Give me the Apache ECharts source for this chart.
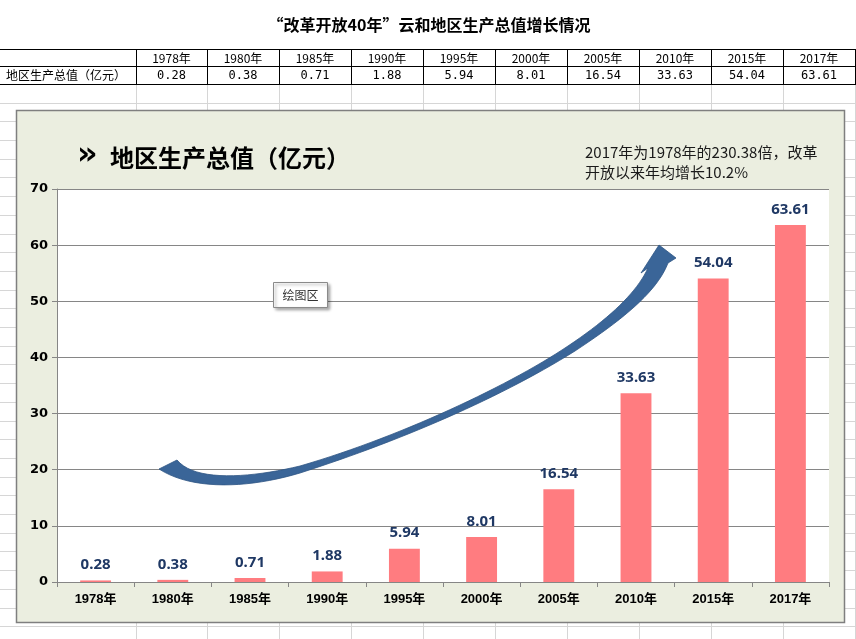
<!DOCTYPE html>
<html>
<head>
<meta charset="utf-8">
<script src="https://cdn.jsdelivr.net/npm/echarts@6/dist/echarts.min.js"></script>
<style>html,body{margin:0;padding:0;background:#fff;}#c{width:856px;height:639px;}</style>
</head>
<body>
<div id="c"></div>
<script>
// ---- data ----
const categories = ['1978年','1980年','1985年','1990年','1995年','2000年','2005年','2010年','2015年','2017年'];
const values = [0.28, 0.38, 0.71, 1.88, 5.94, 8.01, 16.54, 33.63, 54.04, 63.61];
const rowLabel = '地区生产总值（亿元）';
const sheetTitle = '“改革开放40年”云和地区生产总值增长情况';
const chartTitle = '地区生产总值（亿元）';
const noteLines = ['2017年为1978年的230.38倍，改革', '开放以来年均增长10.2%'];
const yMin = 0, yMax = 70, yStep = 10;

// ---- layout ----
const cols = [0,136,207,279,351,423,495,567,639,711,783,855];
const W = 856, H = 639;
const CJK = '"Noto Sans CJK SC", "Liberation Sans", sans-serif';
const graphics = [];

// spreadsheet light grid
for (let y = 84 + 18.7; y < H; y += 18.7) {
  graphics.push({type:'line', z:-30, shape:{x1:0,y1:Math.round(y)+0.5,x2:W,y2:Math.round(y)+0.5}, style:{stroke:'#d6d6d6',lineWidth:1}});
}
cols.slice(1).forEach(x => {
  graphics.push({type:'line', z:-30, shape:{x1:x+0.5,y1:84,x2:x+0.5,y2:H}, style:{stroke:'#d6d6d6',lineWidth:1}});
});
// table borders
[49,66,84].forEach(y => graphics.push({type:'line', z:-25, shape:{x1:0,y1:y+0.5,x2:W,y2:y+0.5}, style:{stroke:'#000',lineWidth:1}}));
cols.slice(1).forEach(x => graphics.push({type:'line', z:-25, shape:{x1:x+0.5,y1:49,x2:x+0.5,y2:84}, style:{stroke:'#000',lineWidth:1}}));
// sheet title
graphics.push({type:'text', z:-25, style:{text:sheetTitle, x:429, y:25, textAlign:'center', textVerticalAlign:'middle', font:'bold 16px '+CJK, fill:'#000'}});
// table text
graphics.push({type:'text', z:-25, style:{text:rowLabel, x:6, y:75.5, textAlign:'left', textVerticalAlign:'middle', font:'12px '+CJK, fill:'#000'}});
categories.forEach((c,i) => {
  const cx = (cols[i+1]+cols[i+2])/2;
  graphics.push({type:'text', z:-25, style:{text:c, x:cx, y:58, textAlign:'center', textVerticalAlign:'middle', font:'12px '+CJK, fill:'#000'}});
  graphics.push({type:'text', z:-25, style:{text:values[i].toFixed(2), x:cx, y:75.5, textAlign:'center', textVerticalAlign:'middle', font:'12px "DejaVu Sans Mono", monospace', fill:'#000'}});
});
// chart box
graphics.push({type:'rect', z:-20, shape:{x:16.5,y:110.5,width:828,height:512}, style:{fill:'#ebeee0',stroke:'#7f7f7f',lineWidth:1.5}});
// chart title
graphics.push({type:'text', z:5, style:{text:'»', x:77, y:156, textAlign:'left', textVerticalAlign:'middle', font:'900 32px "DejaVu Sans", sans-serif', fill:'#000'}});
graphics.push({type:'text', z:5, style:{text:chartTitle, x:110, y:158, textAlign:'left', textVerticalAlign:'middle', font:'bold 24px '+CJK, fill:'#000'}});
// note
noteLines.forEach((t,i) => graphics.push({type:'text', z:5, style:{text:t, x:585, y:152+i*20, textAlign:'left', textVerticalAlign:'middle', font:'15px '+CJK, fill:'#1a1a1a'}}));

// curved arrow (decoration) - sampled cubic beziers into a polygon
function cubic(p0,p1,p2,p3,n){
  const out=[];
  for(let k=1;k<=n;k++){const t=k/n,u=1-t;
    out.push([u*u*u*p0[0]+3*u*u*t*p1[0]+3*u*t*t*p2[0]+t*t*t*p3[0], u*u*u*p0[1]+3*u*u*t*p1[1]+3*u*t*t*p2[1]+t*t*t*p3[1]]);}
  return out;
}
const arrowPts = [[177,460]];
arrowPts.push(...cubic([177,460],[195,482],[250,478],[300,466],20));
arrowPts.push(...cubic([300,466],[400,437],[510,385],[568,346],30));
arrowPts.push(...cubic([568,346],[610,318],[637,292],[648,268],20));
arrowPts.push([641,273],[659,245],[676,258],[668,263]);
arrowPts.push(...cubic([668,263],[657,292],[622,320],[575,351],20));
arrowPts.push(...cubic([575,351],[500,398],[400,441],[300,473],30));
arrowPts.push(...cubic([300,473],[250,488],[193,491],[159,469],20));
graphics.push({type:'polygon', z:10, shape:{points:arrowPts}, style:{fill:'#3a6598', stroke:'#2f5684', lineWidth:0.8}});

// "绘图区" tooltip box
graphics.push({type:'rect', z:12, shape:{x:273.5,y:282.5,width:54,height:25}, style:{fill:'#fff',stroke:'#8a8a8a',lineWidth:1,shadowBlur:3,shadowOffsetX:2,shadowOffsetY:2,shadowColor:'rgba(0,0,0,0.35)'}});
graphics.push({type:'text', z:13, style:{text:'绘图区', x:300.5, y:295, textAlign:'center', textVerticalAlign:'middle', font:'12px '+CJK, fill:'#333'}});

const chart = echarts.init(document.getElementById('c'), null, {renderer:'canvas'});
chart.setOption({
  animation:false,
  backgroundColor:'#fff',
  graphic: graphics,
  grid:{left:57, right:27, top:189, bottom:57, show:true, backgroundColor:'#fff', borderWidth:0},
  xAxis:{
    type:'category', data:categories, boundaryGap:true,
    axisLine:{lineStyle:{color:'#868686', width:1}},
    axisTick:{show:true, length:5, lineStyle:{color:'#868686'}},
    axisLabel:{margin:11, fontSize:13, fontWeight:'bold', color:'#000', fontFamily:'"Liberation Sans", "Noto Sans CJK SC", sans-serif'}
  },
  yAxis:{
    type:'value', min:yMin, max:yMax, interval:yStep,
    axisLine:{show:true, lineStyle:{color:'#868686', width:1}},
    axisTick:{show:true, length:5, lineStyle:{color:'#868686'}},
    axisLabel:{margin:9, fontSize:13, fontWeight:'bold', color:'#000', fontFamily:'"DejaVu Sans", sans-serif'},
    splitLine:{show:true, lineStyle:{color:'#868686', width:1}}
  },
  series:[{
    type:'bar', data:values, barWidth:'40%',
    itemStyle:{color:'#ff7c80'},
    label:{show:true, position:'top', distance:8, fontSize:15, fontWeight:'bold', color:'#1f3864', fontFamily:'"Noto Sans", sans-serif',
      formatter:p => p.value.toFixed(2)}
  }]
});
</script>
</body>
</html>
